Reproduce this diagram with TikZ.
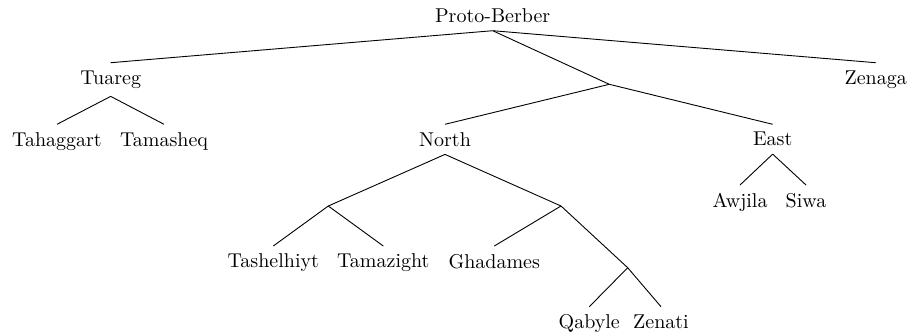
\documentclass[tikz,border=0pt]{standalone}
\begin{document}
\begin{tikzpicture}[x=0.5pt,y=-0.5pt,
  lang/.style={anchor=north, inner xsep=0pt, inner ysep=3.8pt},
  br/.style={line width=0.45pt}]
\useasboundingbox (0,0) rectangle (909,333);
% root
\node[anchor=south, inner xsep=0pt, inner ysep=3.8pt] (PB) at (492.7,30.7) {Proto-Berber};
% level 1
\node[lang] (Tu) at (110.7,62.7) {Tuareg};
\node[lang] (Ze) at (875.7,62.7) {Zenaga};
\coordinate (J1) at (609.3,84.3);
% level 2
\node[lang] (Th) at (57,124.3) {Tahaggart};
\node[lang] (Tm) at (164,124.3) {Tamasheq};
\node[lang] (No) at (445,124.3) {North};
\node[lang] (Ea) at (772.7,124.3) {East};
% East children
\node[lang] (Aw) at (740,185) {Awjila};
\node[lang] (Si) at (806,185) {Siwa};
% North children
\coordinate (J2) at (328.3,206);
\coordinate (J3) at (561,206);
\node[lang] (Ts) at (273.3,246) {Tashelhiyt};
\node[lang] (Tz) at (383.3,246) {Tamazight};
\node[lang] (Gh) at (494.3,246) {Ghadames};
\coordinate (J4) at (627.7,267.7);
\node[lang] (Qa) at (589.3,306.7) {Qabyle};
\node[lang] (Zn) at (661,306.7) {Zenati};
% connectors
\draw[br] (PB.south) -- (Tu.north);
\draw[br] (PB.south) -- (J1);
\draw[br] (PB.south) -- (Ze.north);
\draw[br] (Tu.south) -- (Th.north);
\draw[br] (Tu.south) -- (Tm.north);
\draw[br] (J1) -- (No.north);
\draw[br] (J1) -- (Ea.north);
\draw[br] (Ea.south) -- (Aw.north);
\draw[br] (Ea.south) -- (Si.north);
\draw[br] (No.south) -- (J2);
\draw[br] (No.south) -- (J3);
\draw[br] (J2) -- (Ts.north);
\draw[br] (J2) -- (Tz.north);
\draw[br] (J3) -- (Gh.north);
\draw[br] (J3) -- (J4);
\draw[br] (J4) -- (Qa.north);
\draw[br] (J4) -- (Zn.north);
\end{tikzpicture}
\end{document}
